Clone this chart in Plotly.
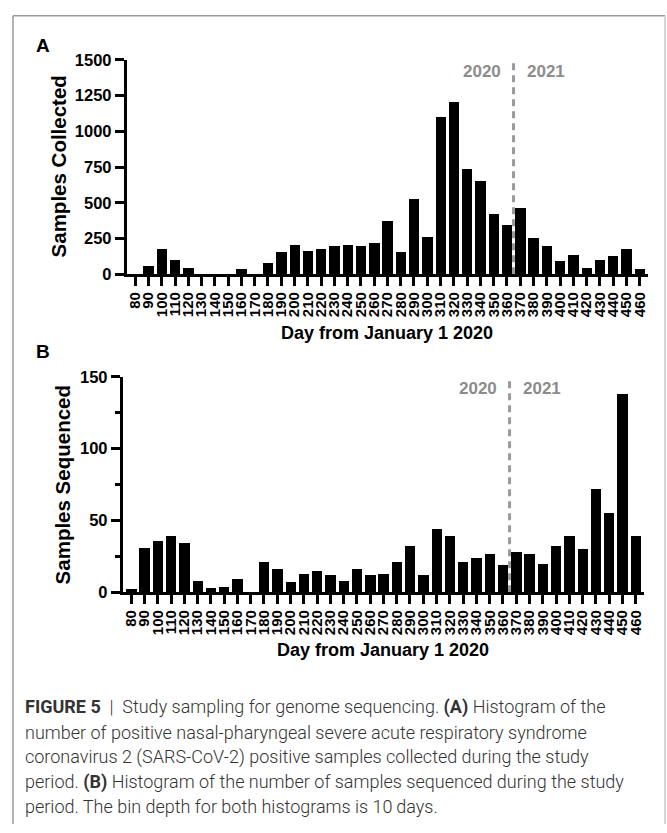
import plotly.graph_objects as go

# Bin start (day from January 1 2020), 10-day bins
days = [80, 90, 100, 110, 120, 130, 140, 150, 160, 170,
        180, 190, 200, 210, 220, 230, 240, 250, 260, 270,
        280, 290, 300, 310, 320, 330, 340, 350, 360, 370,
        380, 390, 400, 410, 420, 430, 440, 450, 460]
tick_labels = [str(d) for d in days]

# Panel A: positive samples collected per bin
collected = [0, 57, 174, 101, 41, 0, 0, 0, 37, 0,
             82, 158, 208, 162, 176, 200, 206, 197, 217, 373,
             156, 526, 263, 1100, 1207, 734, 656, 419, 348, 464,
             256, 197, 96, 137, 46, 101, 126, 174, 34]

# Panel B: samples sequenced per bin
sequenced = [2, 31, 36, 39, 34, 8, 3, 4, 9, 0,
             21, 16, 7, 13, 15, 12, 8, 16, 12, 13,
             21, 32, 12, 44, 39, 21, 24, 27, 19, 28,
             27, 20, 32, 39, 30, 72, 55, 138, 39]

yticks_a = [0, 250, 500, 750, 1000, 1250, 1500]
yticks_b = [0, 50, 100, 150]
year_break = 365

caption_lines = [
    "<b>FIGURE 5</b>  |  Study sampling for genome sequencing. <b>(A)</b> Histogram of the",
    "number of positive nasal-pharyngeal severe acute respiratory syndrome",
    "coronavirus 2 (SARS-CoV-2) positive samples collected during the study",
    "period. <b>(B)</b> Histogram of the number of samples sequenced during the study",
    "period. The bin depth for both histograms is 10\u2009days.",
]

W, H = 667, 833
FONT = "Liberation Sans, Arial, sans-serif"
CAP_FONT = "Roboto, Liberation Sans, sans-serif"
GRAY = "#8c8c8c"


def px_x(p):
    return p / W


def px_y(p):
    return 1 - p / H


fig = go.Figure()
fig.add_trace(go.Bar(x=days, y=collected, width=7.8, marker=dict(color="#000000", line=dict(width=0)),
                     xaxis="x", yaxis="y", hoverinfo="x+y"))
fig.add_trace(go.Bar(x=days, y=sequenced, width=7.8, marker=dict(color="#000000", line=dict(width=0)),
                     xaxis="x2", yaxis="y2", hoverinfo="x+y"))

common_axis = dict(showline=True, linewidth=3, linecolor="#000", ticks="outside", ticklen=9,
                   tickwidth=3, tickcolor="#000", showgrid=False, zeroline=False)
xtickfont = dict(family=FONT, size=15, color="#000", weight="bold")
ytickfont = dict(family=FONT, size=16.5, color="#000", weight="bold")

fig.update_layout(
    width=W, height=H,
    margin=dict(l=0, r=0, t=0, b=0),
    paper_bgcolor="white", plot_bgcolor="white",
    showlegend=False, bargap=0,
    xaxis=dict(domain=[px_x(126), px_x(648)], anchor="y", range=[73.7, 466.3],
               tickmode="array", tickvals=days, ticktext=tick_labels, tickangle=-90,
               tickfont=xtickfont, **common_axis),
    yaxis=dict(domain=[px_y(271), px_y(52)], anchor="x", range=[0, 1500],
               tickmode="array", tickvals=yticks_a, tickfont=ytickfont, **common_axis),
    xaxis2=dict(domain=[px_x(122), px_x(644)], anchor="y2", range=[73.7, 466.3],
                tickmode="array", tickvals=days, ticktext=tick_labels, tickangle=-90,
                tickfont=xtickfont, **common_axis),
    yaxis2=dict(domain=[px_y(596), px_y(376)], anchor="x2", range=[0, 150],
                tickmode="array", tickvals=yticks_b, tickfont=ytickfont,
                minor=dict(tickvals=[25, 75, 125], ticks="outside", ticklen=5, tickwidth=3,
                           tickcolor="#000"),
                **common_axis),
)

# Year boundary markers
dash_line = dict(color="#9a9a9a", width=3, dash="7px,5px")
fig.add_shape(type="line", xref="x", yref="y", x0=year_break, x1=year_break, y0=0, y1=1512,
              line=dash_line, layer="above")
fig.add_shape(type="line", xref="x2", yref="y2", x0=year_break, x1=year_break, y0=0, y1=151.5,
              line=dash_line, layer="above")

year_font = dict(family=FONT, size=17, color=GRAY, weight="bold")
for xr, yr, yv in (("x", "y", 1420), ("x2", "y2", 141.8)):
    fig.add_annotation(text="2020", xref=xr, yref=yr, x=year_break, y=yv, xanchor="right",
                       yanchor="middle", xshift=-11, showarrow=False, font=year_font)
    fig.add_annotation(text="2021", xref=xr, yref=yr, x=year_break, y=yv, xanchor="left",
                       yanchor="middle", xshift=11, showarrow=False, font=year_font)

xtitle_font = dict(family=FONT, size=18, color="#000", weight="bold")
ytitle_font = dict(family=FONT, size=20.5, color="#000", weight="bold")
panel_font = dict(family=FONT, size=19, color="#000", weight="bold")

# Panel letters
fig.add_annotation(text="A", xref="paper", yref="paper", x=px_x(33), y=px_y(37),
                   xanchor="left", yanchor="middle", showarrow=False, font=panel_font)
fig.add_annotation(text="B", xref="paper", yref="paper", x=px_x(33), y=px_y(350),
                   xanchor="left", yanchor="middle", showarrow=False, font=panel_font)

# Axis titles
fig.add_annotation(text="Samples Collected", xref="paper", yref="paper", x=px_x(58), y=px_y(161),
                   textangle=-90, xanchor="center", yanchor="middle", showarrow=False, font=ytitle_font)
fig.add_annotation(text="Samples Sequenced", xref="paper", yref="paper", x=px_x(62), y=px_y(486),
                   textangle=-90, xanchor="center", yanchor="middle", showarrow=False, font=ytitle_font)
fig.add_annotation(text="Day from January 1 2020", xref="paper", yref="paper", x=px_x(387), y=px_y(331),
                   xanchor="center", yanchor="middle", showarrow=False, font=xtitle_font)
fig.add_annotation(text="Day from January 1 2020", xref="paper", yref="paper", x=px_x(383), y=px_y(655),
                   xanchor="center", yanchor="middle", showarrow=False, font=xtitle_font)

# Caption
cap_y = [713, 739, 764.5, 790, 815.5]
for line, yy in zip(caption_lines, cap_y):
    fig.add_annotation(text=line, xref="paper", yref="paper", x=px_x(22), y=px_y(yy),
                       xanchor="left", yanchor="middle", showarrow=False,
                       font=dict(family=CAP_FONT, size=18, color="#333333", weight=300))

# Outer frame
fig.add_shape(type="line", xref="paper", yref="paper", x0=px_x(12), x1=px_x(12), y0=0, y1=px_y(7),
              line=dict(color="#9a9a9a", width=1.5))
fig.add_shape(type="line", xref="paper", yref="paper", x0=px_x(12), x1=px_x(665), y0=px_y(7), y1=px_y(7),
              line=dict(color="#9a9a9a", width=1.5))
fig.add_shape(type="line", xref="paper", yref="paper", x0=px_x(665), x1=px_x(665), y0=0, y1=px_y(7),
              line=dict(color="#c8c8c8", width=1.5))

fig.write_html("out.html")
